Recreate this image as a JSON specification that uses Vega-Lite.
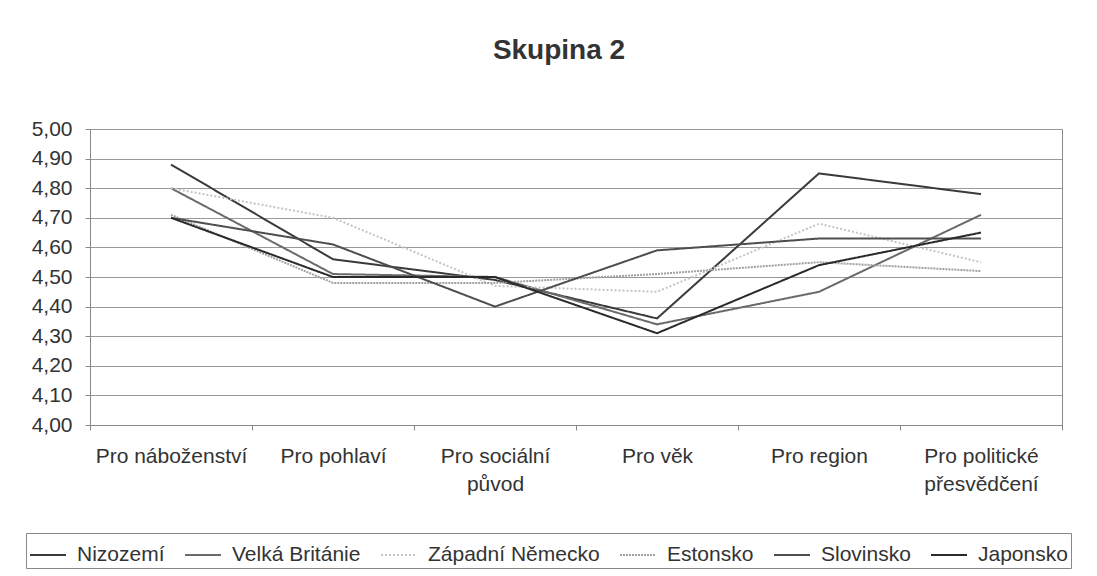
{
  "$schema": "https://vega.github.io/schema/vega-lite/v6.json",
  "width": 972,
  "height": 296,
  "autosize": {"type": "none"},
  "padding": {"left": 90, "top": 129, "right": 35, "bottom": 151},
  "background": "white",
  "title": {"text": "Skupina 2", "fontSize": 28, "fontWeight": "bold", "font": "Liberation Sans", "color": "#333333", "baseline": "alphabetic", "offset": 31, "dx": -17, "anchor": "middle"},
  "data": {"values": [
    {"country": "Nizozemí", "category": "Pro náboženství", "value": 4.88},
    {"country": "Nizozemí", "category": "Pro pohlaví", "value": 4.56},
    {"country": "Nizozemí", "category": "Pro sociální původ", "value": 4.49},
    {"country": "Nizozemí", "category": "Pro věk", "value": 4.36},
    {"country": "Nizozemí", "category": "Pro region", "value": 4.85},
    {"country": "Nizozemí", "category": "Pro politické přesvědčení", "value": 4.78},
    {"country": "Velká Británie", "category": "Pro náboženství", "value": 4.80},
    {"country": "Velká Británie", "category": "Pro pohlaví", "value": 4.51},
    {"country": "Velká Británie", "category": "Pro sociální původ", "value": 4.50},
    {"country": "Velká Británie", "category": "Pro věk", "value": 4.34},
    {"country": "Velká Británie", "category": "Pro region", "value": 4.45},
    {"country": "Velká Británie", "category": "Pro politické přesvědčení", "value": 4.71},
    {"country": "Západní Německo", "category": "Pro náboženství", "value": 4.80},
    {"country": "Západní Německo", "category": "Pro pohlaví", "value": 4.70},
    {"country": "Západní Německo", "category": "Pro sociální původ", "value": 4.47},
    {"country": "Západní Německo", "category": "Pro věk", "value": 4.45},
    {"country": "Západní Německo", "category": "Pro region", "value": 4.68},
    {"country": "Západní Německo", "category": "Pro politické přesvědčení", "value": 4.55},
    {"country": "Estonsko", "category": "Pro náboženství", "value": 4.71},
    {"country": "Estonsko", "category": "Pro pohlaví", "value": 4.48},
    {"country": "Estonsko", "category": "Pro sociální původ", "value": 4.48},
    {"country": "Estonsko", "category": "Pro věk", "value": 4.51},
    {"country": "Estonsko", "category": "Pro region", "value": 4.55},
    {"country": "Estonsko", "category": "Pro politické přesvědčení", "value": 4.52},
    {"country": "Slovinsko", "category": "Pro náboženství", "value": 4.70},
    {"country": "Slovinsko", "category": "Pro pohlaví", "value": 4.61},
    {"country": "Slovinsko", "category": "Pro sociální původ", "value": 4.40},
    {"country": "Slovinsko", "category": "Pro věk", "value": 4.59},
    {"country": "Slovinsko", "category": "Pro region", "value": 4.63},
    {"country": "Slovinsko", "category": "Pro politické přesvědčení", "value": 4.63},
    {"country": "Japonsko", "category": "Pro náboženství", "value": 4.70},
    {"country": "Japonsko", "category": "Pro pohlaví", "value": 4.50},
    {"country": "Japonsko", "category": "Pro sociální původ", "value": 4.50},
    {"country": "Japonsko", "category": "Pro věk", "value": 4.31},
    {"country": "Japonsko", "category": "Pro region", "value": 4.54},
    {"country": "Japonsko", "category": "Pro politické přesvědčení", "value": 4.65}
  ]},
  "mark": {"type": "line", "strokeWidth": 2},
  "encoding": {
    "x": {
      "field": "category", "type": "nominal", "bandPosition": 0.5,
      "sort": ["Pro náboženství", "Pro pohlaví", "Pro sociální původ", "Pro věk", "Pro region", "Pro politické přesvědčení"],
      "scale": {"type": "band", "paddingInner": 0, "paddingOuter": 0},
      "axis": {
        "title": null, "labelAngle": 0, "labelFontSize": 21, "labelColor": "#333333", "labelPadding": 15,
        "tickSize": 5, "tickColor": "#888888", "domainColor": "#888888", "tickBand": "extent",
        "labelLineHeight": 28, "labelLimit": 0, "labelBaseline": "top", "grid": false,
        "labelExpr": "datum.value == 'Pro sociální původ' ? ['Pro sociální', 'původ'] : datum.value == 'Pro politické přesvědčení' ? ['Pro politické', 'přesvědčení'] : datum.value"
      }
    },
    "y": {
      "field": "value", "type": "quantitative",
      "scale": {"domain": [4, 5], "nice": false, "zero": false},
      "axis": {
        "title": null, "values": [4, 4.1, 4.2, 4.3, 4.4, 4.5, 4.6, 4.7, 4.8, 4.9, 5],
        "labelExpr": "replace(format(datum.value, '.2f'), '.', ',')",
        "labelFontSize": 21, "labelColor": "#333333", "gridColor": "#999999", "gridWidth": 1,
        "domainColor": "#888888", "tickColor": "#888888", "tickSize": 5, "labelPadding": 13
      }
    },
    "color": {
      "field": "country", "type": "nominal",
      "scale": {
        "domain": ["Nizozemí", "Velká Británie", "Západní Německo", "Estonsko", "Slovinsko", "Japonsko"],
        "range": ["#3a3a3a", "#6a6a6a", "#c4c4c4", "#a0a0a0", "#4e4e4e", "#2a2a2a"]
      },
      "legend": {
        "orient": "none", "legendX": -64, "legendY": 404, "direction": "horizontal", "columns": 6,
        "title": null, "symbolType": "stroke", "symbolSize": 1296, "symbolStrokeWidth": 2,
        "labelFontSize": 21, "labelColor": "#333333", "labelOffset": 10, "columnPadding": 16,
        "padding": 3, "strokeColor": "#888888", "fillColor": "white", "labelLimit": 0
      }
    },
    "strokeDash": {
      "field": "country", "type": "nominal",
      "scale": {
        "domain": ["Nizozemí", "Velká Británie", "Západní Německo", "Estonsko", "Slovinsko", "Japonsko"],
        "range": [[1, 0], [1, 0], [2, 2], [2, 1], [1, 0], [1, 0]]
      },
      "legend": {
        "orient": "none", "legendX": -64, "legendY": 404, "direction": "horizontal", "columns": 6,
        "title": null, "symbolType": "stroke", "symbolSize": 1296, "symbolStrokeWidth": 2,
        "labelFontSize": 21, "labelColor": "#333333", "labelOffset": 10, "columnPadding": 16,
        "padding": 3, "strokeColor": "#888888", "fillColor": "white", "labelLimit": 0
      }
    }
  },
  "config": {"view": {"stroke": "#888888", "strokeWidth": 1}, "font": "Liberation Sans"}
}
